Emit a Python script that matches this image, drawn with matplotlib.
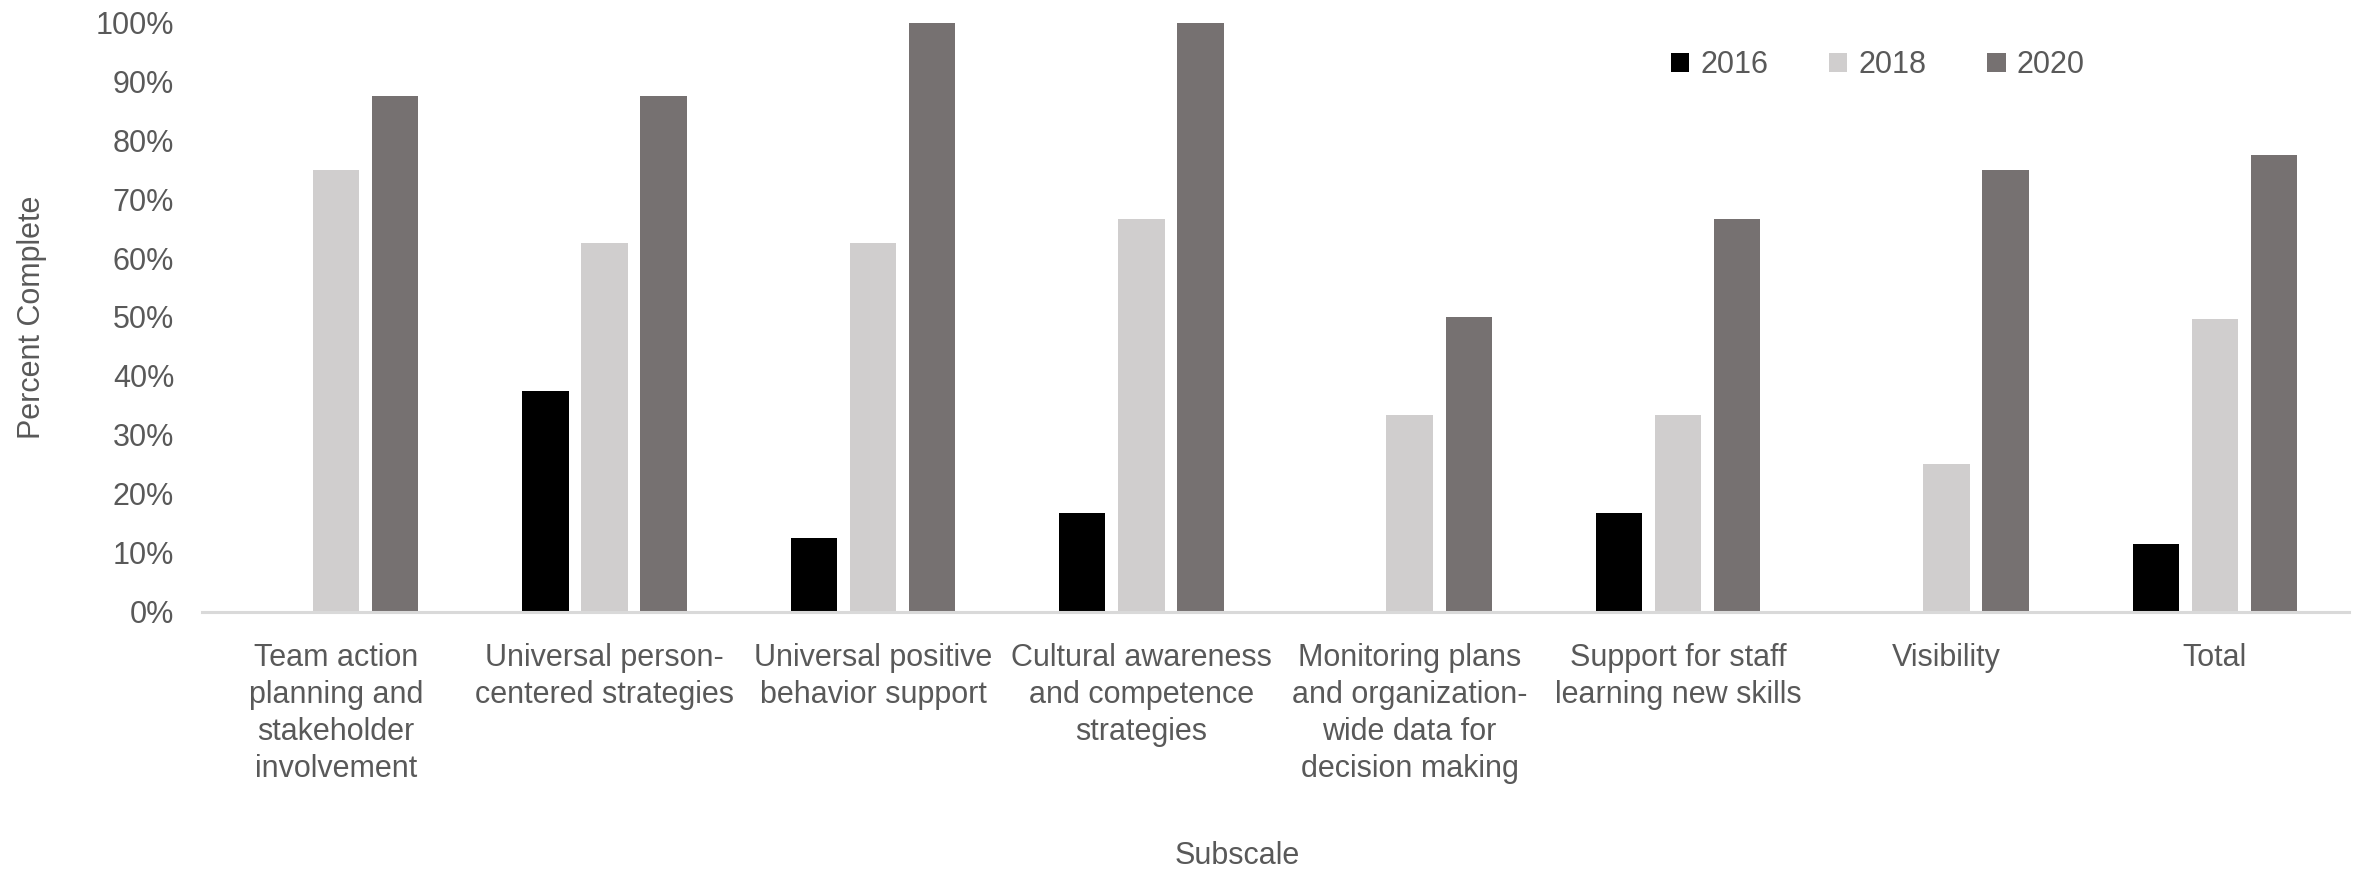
import matplotlib
matplotlib.use("Agg")
import matplotlib.pyplot as plt
import numpy as np

categories = [
    "Team action\nplanning and\nstakeholder\ninvolvement",
    "Universal person-\ncentered strategies",
    "Universal positive\nbehavior support",
    "Cultural awareness\nand competence\nstrategies",
    "Monitoring plans\nand organization-\nwide data for\ndecision making",
    "Support for staff\nlearning new skills",
    "Visibility",
    "Total",
]
years = ["2016", "2018", "2020"]
pct_2016 = [0.0, 37.5, 12.5, 16.7, 0.0, 16.7, 0.0, 11.4]
pct_2018 = [75.0, 62.5, 62.5, 66.7, 33.3, 33.3, 25.0, 49.6]
pct_2020 = [87.5, 87.5, 100.0, 100.0, 50.0, 66.7, 75.0, 77.5]
colors = ["#000000", "#D0CECE", "#767171"]

TXT = "#595959"
FONT = ["Liberation Sans", "DejaVu Sans"]
FS = 22

W, H, DPI = 2366, 869, 100
fig = plt.figure(figsize=(W / DPI, H / DPI), dpi=DPI)
ax = fig.add_axes([202 / W, 1 - 611.5 / H, (2349 - 202) / W, (611.5 - 22.5) / H])

x = np.arange(len(categories))
step, width = 0.22, 0.173
for i, (vals, yr, col) in enumerate(zip([pct_2016, pct_2018, pct_2020], years, colors)):
    ax.bar(x + (i - 1) * step, np.array(vals) / 100, width, color=col,
           label=yr, linewidth=0)

ax.set_xlim(-0.5, len(categories) - 0.5)
ax.set_ylim(0, 1)
ax.set_yticks(np.arange(0, 1.01, 0.1))
ax.set_yticklabels([f"{int(round(v * 100))}%" for v in np.arange(0, 1.01, 0.1)],
                   family=FONT, fontsize=FS, color=TXT)
ax.set_xticks(x)
ax.set_xticklabels(categories, family=FONT, fontsize=FS, color=TXT,
                   linespacing=1.3, va="top", ha="center")
ax.tick_params(axis="both", length=0)
ax.tick_params(axis="y", pad=20)
ax.tick_params(axis="x", pad=23)

for side in ["top", "right", "left"]:
    ax.spines[side].set_visible(False)
ax.spines["bottom"].set_color("#D9D9D9")
ax.spines["bottom"].set_linewidth(2.2)

fig.text(32 / W, 1 - 317 / H, "Percent Complete", rotation=90, ha="center",
         va="center", family=FONT, fontsize=FS, color=TXT)
fig.text(1237 / W, 1 - 856 / H, "Subscale", ha="center", va="center",
         family=FONT, fontsize=FS, color=TXT)

leg = ax.legend(loc="center left", bbox_to_anchor=(1671 / W, 1 - 65 / H),
                bbox_transform=fig.transFigure, ncol=3, frameon=False,
                prop={"family": FONT, "size": FS}, handlelength=0.6,
                handleheight=0.6, handletextpad=0.35, columnspacing=2.0,
                borderpad=0, borderaxespad=0)
for t in leg.get_texts():
    t.set_color(TXT)

fig.savefig("out.png", dpi=DPI, facecolor="white")
